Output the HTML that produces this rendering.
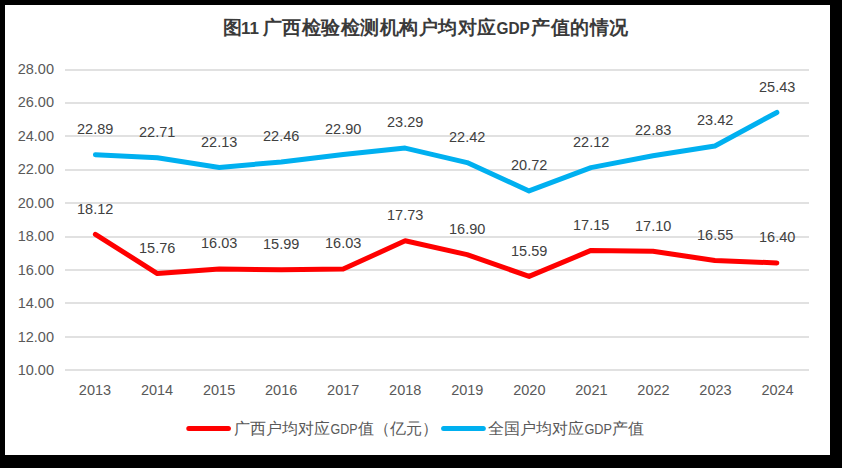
<!DOCTYPE html>
<html><head><meta charset="utf-8"><style>
html,body{margin:0;padding:0;background:#000;}
svg{display:block;}
text{font-family:"Liberation Sans",sans-serif;}
.ax{font-size:14.5px;fill:#595959;}
.lb{font-size:14.5px;fill:#404040;}
.tc{font-size:18.67px;font-weight:bold;fill:#3a3a3a;}
.tl{font-size:16.8px;font-weight:bold;fill:#3a3a3a;}
.lc{font-size:16px;fill:#595959;}
.ll{font-size:15.5px;fill:#595959;}
</style></head><body>
<svg width="842" height="468" viewBox="0 0 842 468">
<rect x="0" y="0" width="842" height="468" fill="#000"/>
<rect x="5" y="5" width="825" height="450" fill="#fff"/>
<text x="223.2" y="34" class="tc">图</text>
<text x="241" y="34" class="tl" textLength="18" lengthAdjust="spacingAndGlyphs">11</text>
<text x="262.50 282.00 301.50 321.00 340.50 360.00 379.50 399.00 418.50 438.00 457.50 477.00" y="34" class="tc">广西检验检测机构户均对应</text>
<text x="496.5" y="34" class="tl" textLength="33.3" lengthAdjust="spacingAndGlyphs">GDP</text>
<text x="531.00 550.50 570.00 589.50 609.00" y="34" class="tc">产值的情况</text>
<rect x="65" y="369" width="744" height="2" fill="#e1e1e1"/>
<text x="54" y="375" text-anchor="end" class="ax">10.00</text>
<rect x="65" y="336" width="744" height="2" fill="#e1e1e1"/>
<text x="54" y="342" text-anchor="end" class="ax">12.00</text>
<rect x="65" y="302" width="744" height="2" fill="#e1e1e1"/>
<text x="54" y="308" text-anchor="end" class="ax">14.00</text>
<rect x="65" y="269" width="744" height="2" fill="#e1e1e1"/>
<text x="54" y="275" text-anchor="end" class="ax">16.00</text>
<rect x="65" y="236" width="744" height="2" fill="#e1e1e1"/>
<text x="54" y="241" text-anchor="end" class="ax">18.00</text>
<rect x="65" y="202" width="744" height="2" fill="#e1e1e1"/>
<text x="54" y="208" text-anchor="end" class="ax">20.00</text>
<rect x="65" y="169" width="744" height="2" fill="#e1e1e1"/>
<text x="54" y="174" text-anchor="end" class="ax">22.00</text>
<rect x="65" y="135" width="744" height="2" fill="#e1e1e1"/>
<text x="54" y="141" text-anchor="end" class="ax">24.00</text>
<rect x="65" y="102" width="744" height="2" fill="#e1e1e1"/>
<text x="54" y="107" text-anchor="end" class="ax">26.00</text>
<rect x="65" y="69" width="744" height="2" fill="#e1e1e1"/>
<text x="54" y="74" text-anchor="end" class="ax">28.00</text>
<text x="95.00" y="395" text-anchor="middle" class="ax">2013</text>
<text x="157.05" y="395" text-anchor="middle" class="ax">2014</text>
<text x="219.10" y="395" text-anchor="middle" class="ax">2015</text>
<text x="281.15" y="395" text-anchor="middle" class="ax">2016</text>
<text x="343.20" y="395" text-anchor="middle" class="ax">2017</text>
<text x="405.25" y="395" text-anchor="middle" class="ax">2018</text>
<text x="467.30" y="395" text-anchor="middle" class="ax">2019</text>
<text x="529.35" y="395" text-anchor="middle" class="ax">2020</text>
<text x="591.40" y="395" text-anchor="middle" class="ax">2021</text>
<text x="653.45" y="395" text-anchor="middle" class="ax">2022</text>
<text x="715.50" y="395" text-anchor="middle" class="ax">2023</text>
<text x="777.55" y="395" text-anchor="middle" class="ax">2024</text>
<polyline points="95.40,154.77 157.35,157.77 219.30,167.43 281.25,161.93 343.20,154.60 405.15,148.10 467.10,162.60 529.05,190.93 591.00,167.60 652.95,155.77 714.90,145.93 776.85,112.43" fill="none" stroke="#00b0f0" stroke-width="5" stroke-linecap="round" stroke-linejoin="round"/>
<polyline points="95.40,234.27 157.35,273.60 219.30,269.10 281.25,269.77 343.20,269.10 405.15,240.77 467.10,254.60 529.05,276.43 591.00,250.43 652.95,251.27 714.90,260.43 776.85,262.93" fill="none" stroke="#ff0000" stroke-width="5" stroke-linecap="round" stroke-linejoin="round"/>
<text x="95.20" y="134.17" text-anchor="middle" class="lb">22.89</text>
<text x="157.20" y="137.17" text-anchor="middle" class="lb">22.71</text>
<text x="219.20" y="146.83" text-anchor="middle" class="lb">22.13</text>
<text x="281.20" y="141.33" text-anchor="middle" class="lb">22.46</text>
<text x="343.20" y="134.00" text-anchor="middle" class="lb">22.90</text>
<text x="405.20" y="127.00" text-anchor="middle" class="lb">23.29</text>
<text x="467.20" y="142.00" text-anchor="middle" class="lb">22.42</text>
<text x="529.20" y="170.33" text-anchor="middle" class="lb">20.72</text>
<text x="591.20" y="147.00" text-anchor="middle" class="lb">22.12</text>
<text x="653.20" y="135.17" text-anchor="middle" class="lb">22.83</text>
<text x="715.20" y="125.33" text-anchor="middle" class="lb">23.42</text>
<text x="777.20" y="91.83" text-anchor="middle" class="lb">25.43</text>
<text x="95.20" y="213.67" text-anchor="middle" class="lb">18.12</text>
<text x="157.20" y="253.00" text-anchor="middle" class="lb">15.76</text>
<text x="219.20" y="248.00" text-anchor="middle" class="lb">16.03</text>
<text x="281.20" y="249.17" text-anchor="middle" class="lb">15.99</text>
<text x="343.20" y="248.00" text-anchor="middle" class="lb">16.03</text>
<text x="405.20" y="220.17" text-anchor="middle" class="lb">17.73</text>
<text x="467.20" y="234.00" text-anchor="middle" class="lb">16.90</text>
<text x="529.20" y="255.83" text-anchor="middle" class="lb">15.59</text>
<text x="591.20" y="229.83" text-anchor="middle" class="lb">17.15</text>
<text x="653.20" y="230.67" text-anchor="middle" class="lb">17.10</text>
<text x="715.20" y="239.83" text-anchor="middle" class="lb">16.55</text>
<text x="777.20" y="242.33" text-anchor="middle" class="lb">16.40</text>
<line x1="188.8" y1="428.4" x2="228.4" y2="428.4" stroke="#ff0000" stroke-width="5" stroke-linecap="round"/>
<text x="233.50 249.50 265.50 281.50 297.50 313.50" y="434" class="lc">广西户均对应</text>
<text x="330.5" y="434" class="ll" textLength="27" lengthAdjust="spacingAndGlyphs">GDP</text>
<text x="357.50 373.50 389.50 405.50 421.50" y="434" class="lc">值（亿元）</text>
<line x1="443.6" y1="428.4" x2="483.3" y2="428.4" stroke="#00b0f0" stroke-width="5" stroke-linecap="round"/>
<text x="487.50 503.50 519.50 535.50 551.50 567.50" y="434" class="lc">全国户均对应</text>
<text x="584.5" y="434" class="ll" textLength="27.5" lengthAdjust="spacingAndGlyphs">GDP</text>
<text x="612.00 628.00" y="434" class="lc">产值</text>
</svg>
</body></html>
